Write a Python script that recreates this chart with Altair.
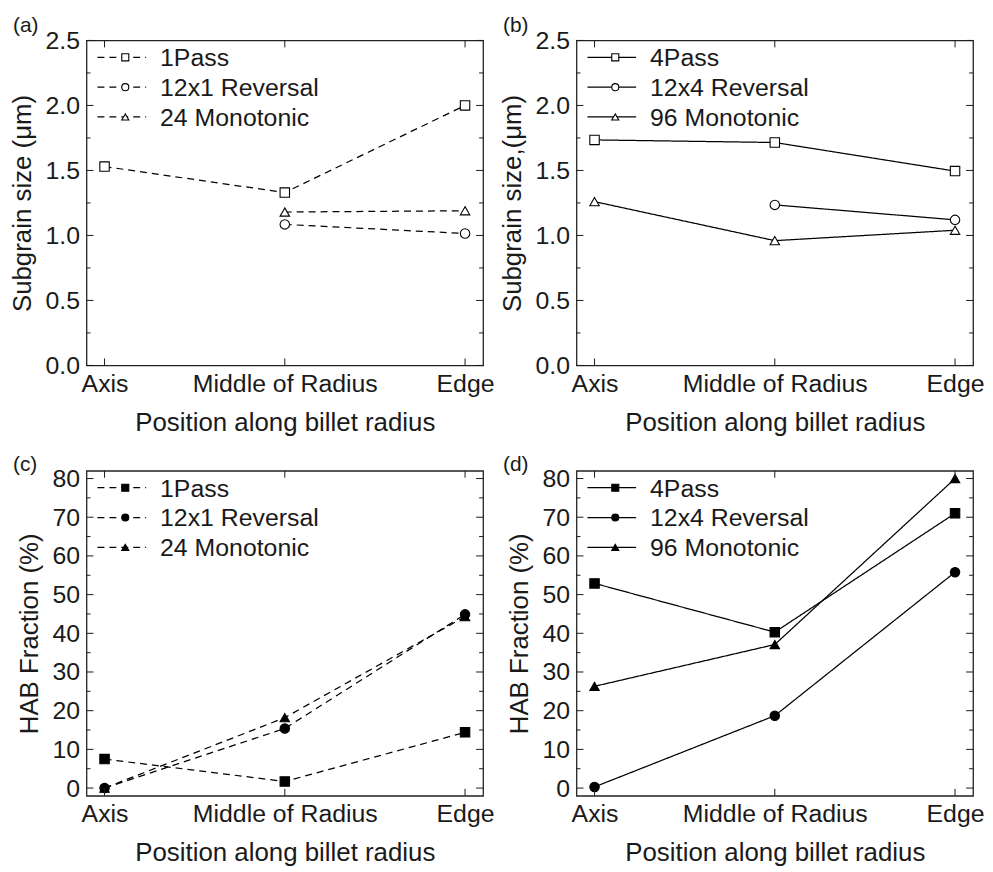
import altair as alt
import pandas as pd

positions = ["Axis", "Middle of Radius", "Edge"]

# Panel (a): subgrain size, 1 pass family (dashed, open markers)
a_series = ["1Pass", "12x1 Reversal", "24 Monotonic"]
a_1pass = [1.53, 1.33, 2.00]
a_rev = [None, 1.085, 1.015]
a_mono = [None, 1.18, 1.19]

# Panel (b): subgrain size, 4 pass family (solid, open markers)
b_series = ["4Pass", "12x4 Reversal", "96 Monotonic"]
b_4pass = [1.735, 1.715, 1.495]
b_rev = [None, 1.235, 1.12]
b_mono = [1.26, 0.96, 1.04]

# Panel (c): HAB fraction, 1 pass family (dashed, filled markers)
c_series = ["1Pass", "12x1 Reversal", "24 Monotonic"]
c_1pass = [7.5, 1.7, 14.4]
c_rev = [0.0, 15.4, 44.9]
c_mono = [0.0, 18.2, 44.3]

# Panel (d): HAB fraction, 4 pass family (solid, filled markers)
d_series = ["4Pass", "12x4 Reversal", "96 Monotonic"]
d_4pass = [52.9, 40.3, 71.0]
d_rev = [0.3, 18.7, 55.8]
d_mono = [26.3, 37.1, 80.0]

size_ticks = [0.0, 0.5, 1.0, 1.5, 2.0, 2.5]
size_minor = [0.25, 0.75, 1.25, 1.75, 2.25]
hab_ticks = [0, 10, 20, 30, 40, 50, 60, 70, 80]
hab_minor = [5, 15, 25, 35, 45, 55, 65, 75]

shapes = ["square", "circle", "triangle-up"]

FONT = "Liberation Sans"
W, H = 399, 327
INK = "#1a1a1a"


def panel(letter, series, values, ytitle, ydomain, yticks, yminor, yfmt, dashed, filled):
    rows = []
    for name, vals in zip(series, values):
        for p, v in zip(positions, vals):
            if v is not None:
                rows.append({"series": name, "pos": p, "val": v})
    df = pd.DataFrame(rows)

    xscale = alt.Scale(type="point", padding=0.1, domain=positions)
    yscale = alt.Scale(domain=ydomain, nice=False, zero=False)

    xenc = alt.X("pos:N", sort=positions, scale=xscale,
                 axis=alt.Axis(title="Position along billet radius", labelAngle=0,
                               ticks=False, domain=False, grid=False, labelLimit=400,
                               labelOverlap=False, labelPadding=6, titlePadding=13))
    yenc = alt.Y("val:Q", scale=yscale,
                 axis=alt.Axis(title=ytitle, values=yticks, format=yfmt,
                               ticks=False, domain=False, grid=False,
                               labelPadding=7, titlePadding=10))
    dash = [7, 5] if dashed else [1, 0]

    line = alt.Chart(df).mark_line(color="black", strokeWidth=1.25, strokeDash=dash).encode(
        x=xenc, y=yenc, detail="series:N")
    pts = alt.Chart(df).mark_point(filled=True, fill="black" if filled else "white",
                                   stroke="black", strokeWidth=1.1, size=90, opacity=1).encode(
        x=xenc, y=yenc,
        shape=alt.Shape("series:N", scale=alt.Scale(domain=series, range=shapes), legend=None))

    layers = [line, pts]

    # inward ticks (left/right major & minor on y, top/bottom on x)
    maj = pd.DataFrame({"val": yticks})
    mnr = pd.DataFrame({"val": yminor})
    layers += [
        alt.Chart(maj).mark_rule(color=INK, strokeWidth=1).encode(y=yenc, x=alt.value(0), x2=alt.value(7)),
        alt.Chart(maj).mark_rule(color=INK, strokeWidth=1).encode(y=yenc, x=alt.value(W), x2=alt.value(W - 7)),
        alt.Chart(mnr).mark_rule(color=INK, strokeWidth=1).encode(y=yenc, x=alt.value(0), x2=alt.value(4)),
        alt.Chart(mnr).mark_rule(color=INK, strokeWidth=1).encode(y=yenc, x=alt.value(W), x2=alt.value(W - 4)),
    ]
    xt = pd.DataFrame({"pos": positions})
    layers += [
        alt.Chart(xt).mark_rule(color=INK, strokeWidth=1).encode(x=xenc, y=alt.value(H), y2=alt.value(H - 7)),
        alt.Chart(xt).mark_rule(color=INK, strokeWidth=1).encode(x=xenc, y=alt.value(0), y2=alt.value(7)),
    ]

    # legend (top-left inside the plot)
    for i, name in enumerate(series):
        yy = 17 + 30 * i
        ld = pd.DataFrame({"name": [name]})
        layers += [
            alt.Chart(ld).mark_rule(color="black", strokeWidth=1.25, strokeDash=dash).encode(
                x=alt.value(11), x2=alt.value(60), y=alt.value(yy)),
            alt.Chart(ld).mark_point(shape=shapes[i], filled=True, fill="black" if filled else "white",
                                     stroke="black", strokeWidth=1.1, size=50, opacity=1).encode(
                x=alt.value(39), y=alt.value(yy)),
            alt.Chart(ld).mark_text(align="left", baseline="middle", font=FONT, fontSize=25,
                                    color=INK).encode(
                x=alt.value(74), y=alt.value(yy + 1), text="name:N"),
        ]

    return alt.layer(*layers).properties(
        width=W, height=H,
        title=alt.TitleParams(letter, anchor="start", frame="group", dx=-74, offset=-8,
                              fontSize=21, font=FONT, fontWeight="normal", color=INK))


pa = panel("(a)", a_series, [a_1pass, a_rev, a_mono], "Subgrain size (\u03bcm)",
           [0, 2.5], size_ticks, size_minor, ".1f", True, False)
pb = panel("(b)", b_series, [b_4pass, b_rev, b_mono], "Subgrain size,(\u03bcm)",
           [0, 2.5], size_ticks, size_minor, ".1f", False, False)
pc = panel("(c)", c_series, [c_1pass, c_rev, c_mono], "HAB Fraction (%)",
           [-2, 82], hab_ticks, hab_minor, "d", True, True)
pd_ = panel("(d)", d_series, [d_4pass, d_rev, d_mono], "HAB Fraction (%)",
            [-2, 82], hab_ticks, hab_minor, "d", False, True)

chart = alt.concat(pa, pb, pc, pd_, columns=2, spacing={"row": 17, "column": 3}).properties(
    padding={"left": 0, "top": 4, "right": 0, "bottom": 0}
).configure(
    background="white"
).configure_view(
    stroke="#222222", strokeWidth=1.3
).configure_axis(
    labelFont=FONT, labelFontSize=25, labelColor=INK,
    titleFont=FONT, titleFontSize=26, titleFontWeight="normal", titleColor=INK
)

chart.save("out.html", embed_options={"renderer": "svg", "actions": False})
